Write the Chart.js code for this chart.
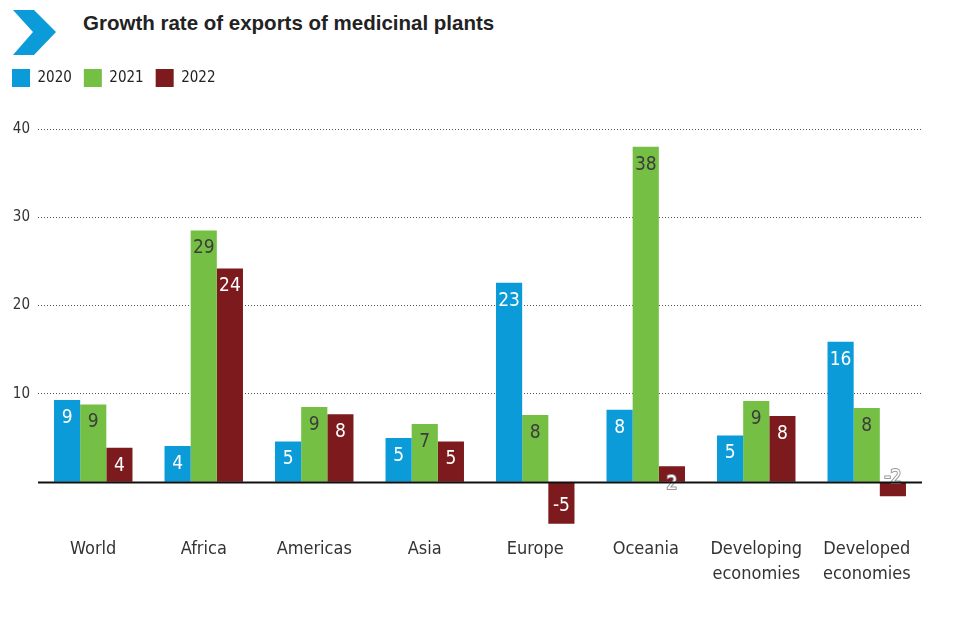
<!DOCTYPE html>
<html>
<head>
<meta charset="utf-8">
<script src="https://cdn.jsdelivr.net/npm/chart.js@4.4.1/dist/chart.umd.min.js"></script>
<style>
  html, body { margin: 0; padding: 0; background: #fff; }
  #wrap { position: relative; width: 953px; height: 629px; }
  #title {
    position: absolute; left: 83px; top: 11px;
    font: bold 20.5px "Liberation Sans", Arial, sans-serif; color: #222;
  }
  #chev { position: absolute; left: 0; top: 0; }
  canvas { position: absolute; left: 0; top: 0; }
</style>
</head>
<body>
<div id="wrap">
  <svg id="chev" width="70" height="60">
    <polygon points="13,10 34,10 56,32 34,55 13,55 33,32" fill="#0A9BD8"/>
  </svg>
  <div id="title">Growth rate of exports of medicinal plants</div>
  <canvas id="chart" width="953" height="629"></canvas>
</div>
<script>
const categories = ["World", "Africa", "Americas", "Asia", "Europe", "Oceania",
  ["Developing", "economies"], ["Developed", "economies"]];
const years = ["2020", "2021", "2022"];
const values2020 = [9.3, 4.1, 4.6, 5.0, 22.6, 8.2, 5.3, 15.9];
const values2021 = [8.8, 28.5, 8.5, 6.6, 7.6, 38.0, 9.2, 8.4];
const values2022 = [3.9, 24.2, 7.7, 4.6, -4.7, 1.8, 7.5, -1.6];
const yTicks = [10, 20, 30, 40];

const colors = ["#0A9BD8", "#74BF44", "#7D1A1D"];
const labelColors = ["#ffffff", "#3d3d3d", "#ffffff"];
const FONT = '"Liberation Sans Narrow", "DejaVu Sans Condensed", "Liberation Sans", sans-serif';

// value labels drawn just inside the bar end
const barLabels = {
  id: "barLabels",
  afterDatasetsDraw(chart) {
    const ctx = chart.ctx;
    ctx.save();
    ctx.font = "19px " + FONT;
    ctx.textAlign = "center";
    ctx.textBaseline = "middle";
    chart.data.datasets.forEach((ds, di) => {
      chart.getDatasetMeta(di).data.forEach((bar, i) => {
        const v = ds.data[i];
        const y = v >= 0 ? bar.y + 18 : bar.y - 18;
        const txt = String(Math.round(v));
        if (Math.abs(v) < 3) {
          ctx.lineWidth = 2;
          ctx.strokeStyle = "#9a9a9a";
          ctx.strokeText(txt, bar.x, y);
        }
        ctx.fillStyle = labelColors[di];
        ctx.fillText(txt, bar.x, y);
      });
    });
    // solid zero line
    const ys = chart.scales.y;
    const y0 = Math.round(ys.getPixelForValue(0)) + 0.5;
    ctx.beginPath();
    ctx.strokeStyle = "#111";
    ctx.lineWidth = 2;
    ctx.moveTo(chart.chartArea.left, y0);
    ctx.lineTo(chart.chartArea.right, y0);
    ctx.stroke();
    ctx.restore();
  }
};

// extra space under the legend
const legendGap = {
  id: "legendGap",
  afterInit(chart) {
    const fit = chart.legend.fit;
    chart.legend.fit = function () {
      fit.call(this);
      this.height += 32;
    };
  }
};

new Chart(document.getElementById("chart"), {
  type: "bar",
  data: {
    labels: categories,
    datasets: [
      { label: years[0], data: values2020, backgroundColor: colors[0] },
      { label: years[1], data: values2021, backgroundColor: colors[1] },
      { label: years[2], data: values2022, backgroundColor: colors[2] }
    ]
  },
  options: {
    responsive: false,
    animation: false,
    layout: { padding: { top: 57, left: 0, right: 31, bottom: 39 } },
    datasets: { bar: { barPercentage: 1, categoryPercentage: 0.71 } },
    plugins: {
      legend: {
        position: "top",
        align: "start",
        labels: {
          boxWidth: 18, boxHeight: 18, padding: 12,
          color: "#222", font: { family: FONT, size: 15 }
        }
      },
      tooltip: { enabled: false }
    },
    scales: {
      x: {
        grid: { display: false },
        border: { display: false },
        ticks: {
          color: "#333", padding: 3,
          font: { family: FONT, size: 18, lineHeight: 1.38 }
        }
      },
      y: {
        min: -5, max: 40,
        afterBuildTicks(scale) {
          scale.ticks = [-5, 0].concat(yTicks).map(v => ({ value: v }));
        },
        afterFit(scale) { scale.width = 38; },
        border: { display: false, dash: [1, 2] },
        grid: {
          drawTicks: false,
          color: c => c.tick.value > 0 ? "#555" : "rgba(0,0,0,0)",
          lineWidth: 1
        },
        ticks: {
          color: "#333", padding: 8,
          font: { family: FONT, size: 15 },
          callback: v => v > 0 ? v : ""
        }
      }
    }
  },
  plugins: [barLabels, legendGap]
});
</script>
</body>
</html>
